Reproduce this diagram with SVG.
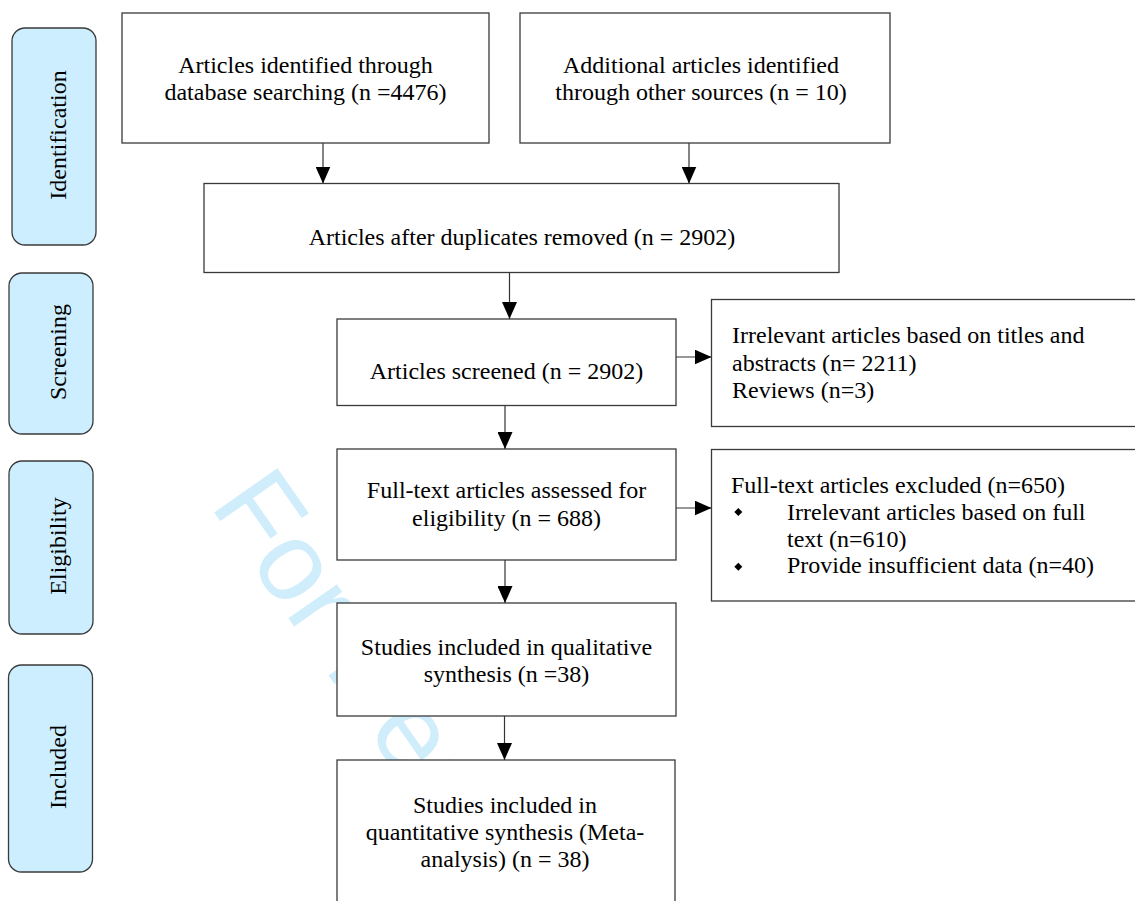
<svg xmlns="http://www.w3.org/2000/svg" width="1135" height="901" viewBox="0 0 1135 901">
<style>
.bg{fill:#ffffff}
.box{fill:#ffffff;stroke:#3a3a3a;stroke-width:1.3}
.phase{fill:#cceeff;stroke:#3a3a3a;stroke-width:1.3}
.t{font-family:"Liberation Serif","Times New Roman",serif;font-size:24px;fill:#000}
.c{text-anchor:middle}
.wm{font-family:"Liberation Sans",Arial,sans-serif;font-size:112px;fill:#d0edfb}
.ln{stroke:#333;stroke-width:1.2;fill:none}
</style>
<defs>
<marker id="ah" markerWidth="17" markerHeight="15" refX="17" refY="7.5" orient="auto" markerUnits="userSpaceOnUse">
<path d="M0,0 L17,7.5 L0,15 Z" fill="#000"/>
</marker>
</defs>
<rect class="bg" x="0" y="0" width="1135" height="901"/>
<text class="wm" transform="translate(209,505) rotate(55)">For Peer</text>

<g id="phase-identification">
<rect class="phase" x="12" y="28" width="84" height="217" rx="13"/>
<text class="t c" transform="translate(66,135) rotate(-90)">Identification</text>
</g>
<g id="phase-screening">
<rect class="phase" x="9" y="273" width="84" height="161" rx="13"/>
<text class="t c" transform="translate(66,352) rotate(-90)">Screening</text>
</g>
<g id="phase-eligibility">
<rect class="phase" x="9" y="461" width="84" height="173" rx="13"/>
<text class="t c" transform="translate(66,546) rotate(-90)">Eligibility</text>
</g>
<g id="phase-included">
<rect class="phase" x="8.5" y="665" width="84" height="207" rx="13"/>
<text class="t c" transform="translate(66,767) rotate(-90)">Included</text>
</g>

<g id="connectors">
<line class="ln" x1="323" y1="143" x2="323" y2="183.5" marker-end="url(#ah)"/>
<line class="ln" x1="689" y1="143" x2="689" y2="183.5" marker-end="url(#ah)"/>
<line class="ln" x1="509.5" y1="272.5" x2="509.5" y2="319" marker-end="url(#ah)"/>
<line class="ln" x1="505" y1="405.5" x2="505" y2="449" marker-end="url(#ah)"/>
<line class="ln" x1="505" y1="560" x2="505" y2="603" marker-end="url(#ah)"/>
<line class="ln" x1="504.5" y1="716" x2="504.5" y2="760" marker-end="url(#ah)"/>
<line class="ln" x1="676" y1="357" x2="711.5" y2="357" marker-end="url(#ah)"/>
<line class="ln" x1="676" y1="508" x2="711.5" y2="508" marker-end="url(#ah)"/>
</g>

<g id="n-database">
<rect class="box" x="122" y="13" width="367" height="130"/>
<text class="t c" x="305.5" y="72.7">Articles identified through</text>
<text class="t c" x="305.5" y="100">database searching (n =4476)</text>
</g>
<g id="n-other">
<rect class="box" x="520" y="13" width="370" height="130"/>
<text class="t c" x="701" y="72.7">Additional articles identified</text>
<text class="t c" x="701" y="100">through other sources (n = 10)</text>
</g>
<g id="n-duplicates">
<rect class="box" x="204" y="183.5" width="635" height="89"/>
<text class="t c" x="522" y="245">Articles after duplicates removed (n = 2902)</text>
</g>
<g id="n-screened">
<rect class="box" x="337" y="319" width="339" height="86.5"/>
<text class="t c" x="506.5" y="379">Articles screened (n = 2902)</text>
</g>
<g id="n-irrelevant">
<rect class="box" x="711.5" y="299.5" width="440" height="127"/>
<text class="t" x="732" y="343.3">Irrelevant articles based on titles and</text>
<text class="t" x="732" y="371">abstracts (n= 2211)</text>
<text class="t" x="732" y="398.3">Reviews (n=3)</text>
</g>
<g id="n-fulltext">
<rect class="box" x="337" y="449" width="339" height="111"/>
<text class="t c" x="506.5" y="498.3">Full-text articles assessed for</text>
<text class="t c" x="506.5" y="525.7">eligibility (n = 688)</text>
</g>
<g id="n-excluded">
<rect class="box" x="711.5" y="449.5" width="440" height="151.5"/>
<text class="t" x="731" y="493.3">Full-text articles excluded (n=650)</text>
<path d="M738.3,508 L742.3,512 L738.3,516 L734.3,512 Z" fill="#000"/>
<text class="t" x="787" y="520">Irrelevant articles based on full</text>
<text class="t" x="787" y="546.7">text (n=610)</text>
<path d="M738.3,562.7 L742.3,566.7 L738.3,570.7 L734.3,566.7 Z" fill="#000"/>
<text class="t" x="787" y="573.3">Provide insufficient data (n=40)</text>
</g>
<g id="n-qualitative">
<rect class="box" x="337" y="603" width="339" height="113"/>
<text class="t c" x="506.5" y="655">Studies included in qualitative</text>
<text class="t c" x="506.5" y="681.7">synthesis (n =38)</text>
</g>
<g id="n-quantitative">
<rect class="box" x="337" y="760" width="338" height="160"/>
<text class="t c" x="505" y="813.3">Studies included in</text>
<text class="t c" x="505" y="840">quantitative synthesis (Meta-</text>
<text class="t c" x="505" y="866.7">analysis) (n = 38)</text>
</g>
</svg>
